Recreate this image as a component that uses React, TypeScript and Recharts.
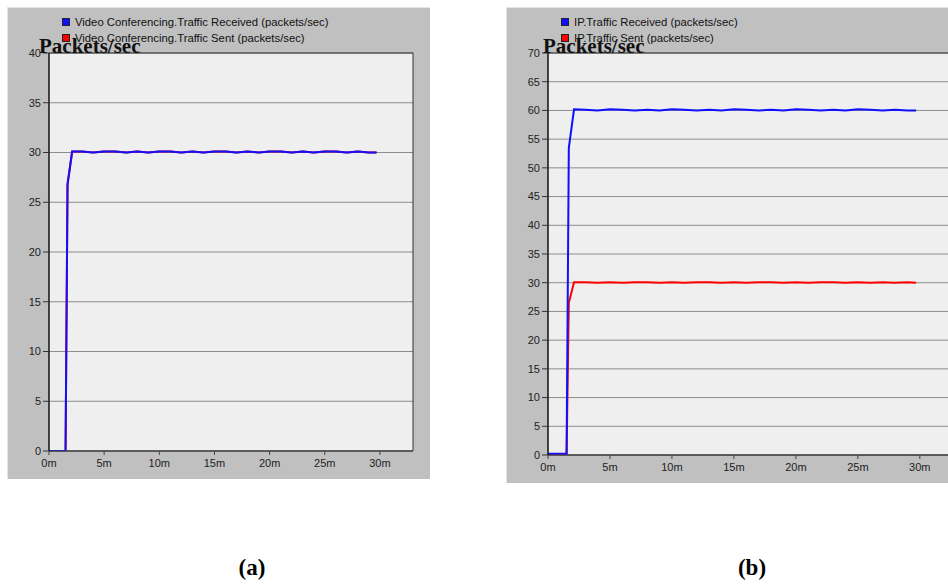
import { LineChart, Line, XAxis, YAxis, CartesianGrid, ReferenceArea, Legend } from "recharts";

// minutes of simulated time
const TIME_MIN = [
  0, 1.5, 1.68, 2.1, 3, 4, 5, 6, 7, 8, 9, 10, 11, 12, 13, 14, 15, 16, 17, 18, 19, 20, 21, 22, 23, 24, 25, 26,
  27, 28, 29, 29.7,
];

// (a) Video Conferencing - sent sits right under received
const VC_RECEIVED = [
  0, 0, 26.8, 30.1, 30.1, 30.0, 30.1, 30.1, 30.0, 30.1, 30.0, 30.1, 30.1, 30.0, 30.1, 30.0, 30.1, 30.1, 30.0,
  30.1, 30.0, 30.1, 30.1, 30.0, 30.1, 30.0, 30.1, 30.1, 30.0, 30.1, 30.0, 30.0,
];
const VC_SENT = [
  0, 0, 26.8, 30.1, 30.1, 30.0, 30.1, 30.1, 30.0, 30.1, 30.0, 30.1, 30.1, 30.0, 30.1, 30.0, 30.1, 30.1, 30.0,
  30.1, 30.0, 30.1, 30.1, 30.0, 30.1, 30.0, 30.1, 30.1, 30.0, 30.1, 30.0, 30.0,
];

// (b) IP
const IP_RECEIVED = [
  0.2, 0.2, 53.5, 60.2, 60.1, 60.0, 60.2, 60.1, 60.0, 60.1, 60.0, 60.2, 60.1, 60.0, 60.1, 60.0, 60.2, 60.1, 60.0,
  60.1, 60.0, 60.2, 60.1, 60.0, 60.1, 60.0, 60.2, 60.1, 60.0, 60.1, 60.0, 60.0,
];
const IP_SENT = [
  0, 0, 26.5, 30.1, 30.1, 30.0, 30.1, 30.0, 30.1, 30.1, 30.0, 30.1, 30.0, 30.1, 30.1, 30.0, 30.1, 30.0, 30.1,
  30.1, 30.0, 30.1, 30.0, 30.1, 30.1, 30.0, 30.1, 30.0, 30.1, 30.0, 30.1, 30.0,
];

const X_TICKS = [0, 5, 10, 15, 20, 25, 30];
const Y_TICKS_A = [0, 5, 10, 15, 20, 25, 30, 35, 40];
const Y_TICKS_B = [0, 5, 10, 15, 20, 25, 30, 35, 40, 45, 50, 55, 60, 65, 70];

const LEGEND_A = ["Video Conferencing.Traffic Received (packets/sec)", "Video Conferencing.Traffic Sent (packets/sec)"];
const LEGEND_B = ["IP.Traffic Received (packets/sec)", "IP.Traffic Sent (packets/sec)"];

const CAPTIONS = ["(a)", "(b)"];

const BLUE = "#1010ff";
const RED = "#ff0000";
const SANS = "'Liberation Sans', Arial, sans-serif";
const SERIF = "'Liberation Serif', 'Times New Roman', serif";

const tickStyle = { fontFamily: SANS, fontSize: 11, fill: "#222" };

function buildRows(received: number[], sent: number[]) {
  return TIME_MIN.map((t, i) => ({ t, received: received[i], sent: sent[i] }));
}

function LegendBox({ payload, order }: any) {
  const items = [...(payload || [])].sort((a: any, b: any) => order.indexOf(a.value) - order.indexOf(b.value));
  return (
    <div style={{ fontFamily: SANS, fontSize: 11.3, color: "#111", lineHeight: "16px" }}>
      {items.map((it: any) => (
        <div key={it.value} style={{ display: "flex", alignItems: "center", whiteSpace: "nowrap" }}>
          <span
            style={{
              display: "inline-block",
              width: 6,
              height: 6,
              background: it.color,
              border: "1px solid #222",
              marginRight: 5,
            }}
          />
          {it.value}
        </div>
      ))}
    </div>
  );
}

function Panel({ left, width, height, rows, yMax, yTicks, labels, labelX }: any) {
  return (
    <div
      style={{
        position: "absolute",
        left,
        top: 7,
        width,
        height,
        background: "#c0c0c0",
        borderTop: "1px solid #e4e4e4",
        borderLeft: "1px solid #e4e4e4",
        boxSizing: "border-box",
      }}
    >
      <LineChart
        width={width - 1}
        height={height - 1}
        data={rows}
        margin={{ top: 45, right: 17, bottom: 0, left: 0 }}
      >
        <CartesianGrid vertical={false} horizontal fill="#efefef" stroke="#8c8c8c" />
        <XAxis
          type="number"
          dataKey="t"
          domain={[0, 33]}
          ticks={X_TICKS}
          tickFormatter={(v: number) => `${v}m`}
          height={28}
          tick={tickStyle}
          tickSize={4}
          tickMargin={4}
          stroke="#444"
          tickLine={{ stroke: "#444" }}
          allowDataOverflow
        />
        <YAxis
          type="number"
          domain={[0, yMax]}
          ticks={yTicks}
          width={41}
          tick={tickStyle}
          tickSize={6}
          tickMargin={2}
          stroke="#000"
          tickLine={{ stroke: "#333" }}
          allowDataOverflow
          label={{
            content: (p: any) => (
              <text
                x={(p.viewBox?.x ?? 0) + labelX}
                y={p.viewBox?.y ?? 0}
                fontFamily={SERIF}
                fontWeight="bold"
                fontSize={21}
                fill="#111"
              >
                Packets/sec
              </text>
            ),
          }}
        />
        <ReferenceArea x1={0} x2={33} y1={0} y2={yMax} fill="none" stroke="#333" strokeWidth={1} />
        <Legend
          layout="vertical"
          align="center"
          verticalAlign="middle"
          wrapperStyle={{ position: "absolute", top: 6, left: 54, width: "auto" }}
          content={(p: any) => <LegendBox payload={p.payload} order={labels} />}
        />
        <Line
          type="linear"
          dataKey="sent"
          name={labels[1]}
          stroke={RED}
          strokeWidth={2}
          dot={false}
          isAnimationActive={false}
        />
        <Line
          type="linear"
          dataKey="received"
          name={labels[0]}
          stroke={BLUE}
          strokeWidth={2}
          dot={false}
          isAnimationActive={false}
        />
      </LineChart>
    </div>
  );
}

export default function App() {
  return (
    <div
      style={{
        position: "fixed",
        left: 0,
        top: 0,
        width: 948,
        height: 585,
        overflow: "hidden",
        background: "#fff",
      }}
    >
      <Panel
        left={7}
        width={423}
        height={472}
        rows={buildRows(VC_RECEIVED, VC_SENT)}
        yMax={40}
        yTicks={Y_TICKS_A}
        labels={LEGEND_A}
        labelX={31}
      />
      <Panel
        left={506}
        width={468}
        height={476}
        rows={buildRows(IP_RECEIVED, IP_SENT)}
        yMax={70}
        yTicks={Y_TICKS_B}
        labels={LEGEND_B}
        labelX={36}
      />
      {CAPTIONS.map((c, i) => (
        <div
          key={c}
          style={{
            position: "absolute",
            left: i === 0 ? 222 : 722,
            width: 60,
            top: 555,
            textAlign: "center",
            fontFamily: SERIF,
            fontWeight: "bold",
            fontSize: 23,
            color: "#000",
          }}
        >
          {c}
        </div>
      ))}
    </div>
  );
}
